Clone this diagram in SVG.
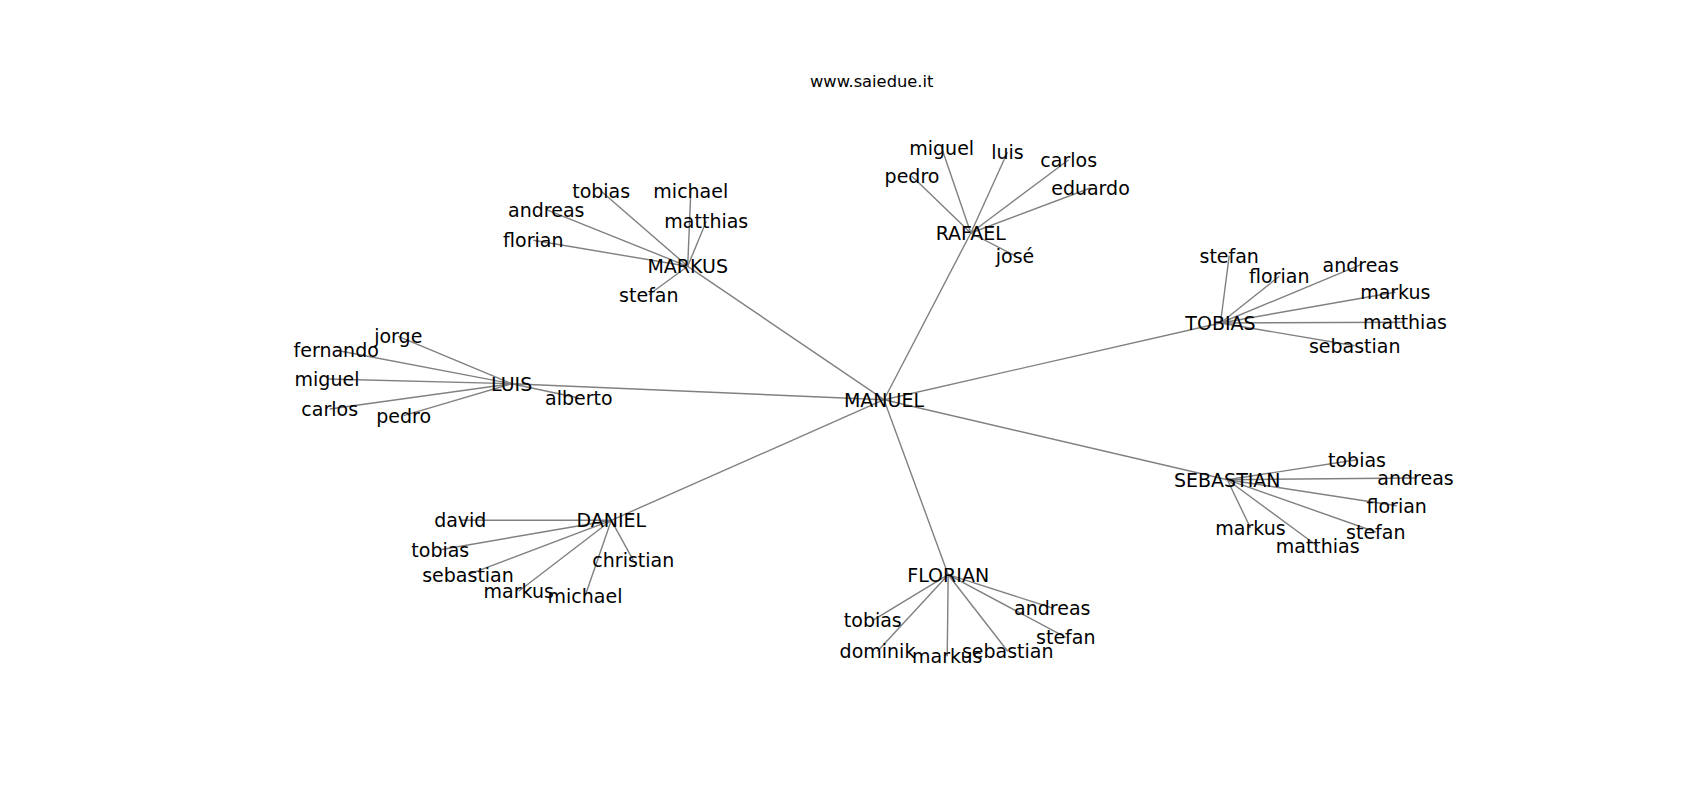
<svg xmlns="http://www.w3.org/2000/svg" width="1700" height="800" viewBox="0 0 1700 800">
<style>
text{font-family:"DejaVu Sans","Liberation Sans",sans-serif;font-size:19px;fill:#000;text-anchor:middle}
.title{font-size:16.3px}
#edges line{stroke:#808080;stroke-width:1.4}
</style>
<rect width="1700" height="800" fill="#fff"/>
<text class="title" x="871.7" y="87.3">www.saiedue.it</text>
<g id="edges">
<line x1="884" y1="399.7" x2="687.7" y2="266.3"/>
<line x1="884" y1="399.7" x2="970.8" y2="233"/>
<line x1="884" y1="399.7" x2="511.7" y2="383.7"/>
<line x1="884" y1="399.7" x2="1220.5" y2="323"/>
<line x1="884" y1="399.7" x2="1227.3" y2="479.7"/>
<line x1="884" y1="399.7" x2="611.3" y2="520.3"/>
<line x1="884" y1="399.7" x2="948.2" y2="574.7"/>
<line x1="687.7" y1="266.3" x2="601.2" y2="191.3"/>
<line x1="687.7" y1="266.3" x2="690.8" y2="191.3"/>
<line x1="687.7" y1="266.3" x2="546.3" y2="209.7"/>
<line x1="687.7" y1="266.3" x2="706.3" y2="221.3"/>
<line x1="687.7" y1="266.3" x2="533.3" y2="240.3"/>
<line x1="687.7" y1="266.3" x2="648.8" y2="294.7"/>
<line x1="970.8" y1="233" x2="941.7" y2="148"/>
<line x1="970.8" y1="233" x2="1007.5" y2="152.3"/>
<line x1="970.8" y1="233" x2="1068.7" y2="159.7"/>
<line x1="970.8" y1="233" x2="912" y2="176.3"/>
<line x1="970.8" y1="233" x2="1090.5" y2="188"/>
<line x1="970.8" y1="233" x2="1015" y2="255.7"/>
<line x1="511.7" y1="383.7" x2="398.3" y2="336.3"/>
<line x1="511.7" y1="383.7" x2="336.2" y2="350.3"/>
<line x1="511.7" y1="383.7" x2="327" y2="379"/>
<line x1="511.7" y1="383.7" x2="578.8" y2="398"/>
<line x1="511.7" y1="383.7" x2="329.7" y2="409"/>
<line x1="511.7" y1="383.7" x2="403.7" y2="415.7"/>
<line x1="1220.5" y1="323" x2="1229.2" y2="255.7"/>
<line x1="1220.5" y1="323" x2="1279.3" y2="276.3"/>
<line x1="1220.5" y1="323" x2="1360.7" y2="264.7"/>
<line x1="1220.5" y1="323" x2="1395.3" y2="292.3"/>
<line x1="1220.5" y1="323" x2="1405" y2="322.3"/>
<line x1="1220.5" y1="323" x2="1354.7" y2="345.7"/>
<line x1="1227.3" y1="479.7" x2="1357" y2="459.7"/>
<line x1="1227.3" y1="479.7" x2="1415.5" y2="478"/>
<line x1="1227.3" y1="479.7" x2="1396.7" y2="505.7"/>
<line x1="1227.3" y1="479.7" x2="1250.5" y2="528"/>
<line x1="1227.3" y1="479.7" x2="1375.8" y2="532"/>
<line x1="1227.3" y1="479.7" x2="1317.7" y2="546.3"/>
<line x1="611.3" y1="520.3" x2="460.3" y2="520.3"/>
<line x1="611.3" y1="520.3" x2="440.3" y2="549.7"/>
<line x1="611.3" y1="520.3" x2="633.3" y2="560.3"/>
<line x1="611.3" y1="520.3" x2="468" y2="574.7"/>
<line x1="611.3" y1="520.3" x2="518.7" y2="591.3"/>
<line x1="611.3" y1="520.3" x2="585" y2="596.3"/>
<line x1="948.2" y1="574.7" x2="872.8" y2="620.3"/>
<line x1="948.2" y1="574.7" x2="1052.3" y2="608"/>
<line x1="948.2" y1="574.7" x2="1065.8" y2="637.3"/>
<line x1="948.2" y1="574.7" x2="877.5" y2="651.3"/>
<line x1="948.2" y1="574.7" x2="947.2" y2="656.3"/>
<line x1="948.2" y1="574.7" x2="1007.7" y2="651.3"/>
</g>
<g id="manuel"><text x="884" y="406.7">MANUEL</text></g>
<g id="markus"><text x="687.7" y="273.3">MARKUS</text></g>
<g id="markus-tobias"><text x="601.2" y="198.3">tobias</text></g>
<g id="markus-michael"><text x="690.8" y="198.3">michael</text></g>
<g id="markus-andreas"><text x="546.3" y="216.7">andreas</text></g>
<g id="markus-matthias"><text x="706.3" y="228.3">matthias</text></g>
<g id="markus-florian"><text x="533.3" y="247.3">florian</text></g>
<g id="markus-stefan"><text x="648.8" y="301.7">stefan</text></g>
<g id="rafael"><text x="970.8" y="240">RAFAEL</text></g>
<g id="rafael-miguel"><text x="941.7" y="155">miguel</text></g>
<g id="rafael-luis"><text x="1007.5" y="159.3">luis</text></g>
<g id="rafael-carlos"><text x="1068.7" y="166.7">carlos</text></g>
<g id="rafael-pedro"><text x="912" y="183.3">pedro</text></g>
<g id="rafael-eduardo"><text x="1090.5" y="195">eduardo</text></g>
<g id="rafael-jose"><text x="1015" y="262.7">josé</text></g>
<g id="luis"><text x="511.7" y="390.7">LUIS</text></g>
<g id="luis-jorge"><text x="398.3" y="343.3">jorge</text></g>
<g id="luis-fernando"><text x="336.2" y="357.3">fernando</text></g>
<g id="luis-miguel"><text x="327" y="386">miguel</text></g>
<g id="luis-alberto"><text x="578.8" y="405">alberto</text></g>
<g id="luis-carlos"><text x="329.7" y="416">carlos</text></g>
<g id="luis-pedro"><text x="403.7" y="422.7">pedro</text></g>
<g id="tobias"><text x="1220.5" y="330">TOBIAS</text></g>
<g id="tobias-stefan"><text x="1229.2" y="262.7">stefan</text></g>
<g id="tobias-florian"><text x="1279.3" y="283.3">florian</text></g>
<g id="tobias-andreas"><text x="1360.7" y="271.7">andreas</text></g>
<g id="tobias-markus"><text x="1395.3" y="299.3">markus</text></g>
<g id="tobias-matthias"><text x="1405" y="329.3">matthias</text></g>
<g id="tobias-sebastian"><text x="1354.7" y="352.7">sebastian</text></g>
<g id="sebastian"><text x="1227.3" y="486.7">SEBASTIAN</text></g>
<g id="sebastian-tobias"><text x="1357" y="466.7">tobias</text></g>
<g id="sebastian-andreas"><text x="1415.5" y="485">andreas</text></g>
<g id="sebastian-florian"><text x="1396.7" y="512.7">florian</text></g>
<g id="sebastian-markus"><text x="1250.5" y="535">markus</text></g>
<g id="sebastian-stefan"><text x="1375.8" y="539">stefan</text></g>
<g id="sebastian-matthias"><text x="1317.7" y="553.3">matthias</text></g>
<g id="daniel"><text x="611.3" y="527.3">DANIEL</text></g>
<g id="daniel-david"><text x="460.3" y="527.3">david</text></g>
<g id="daniel-tobias"><text x="440.3" y="556.7">tobias</text></g>
<g id="daniel-christian"><text x="633.3" y="567.3">christian</text></g>
<g id="daniel-sebastian"><text x="468" y="581.7">sebastian</text></g>
<g id="daniel-markus"><text x="518.7" y="598.3">markus</text></g>
<g id="daniel-michael"><text x="585" y="603.3">michael</text></g>
<g id="florian"><text x="948.2" y="581.7">FLORIAN</text></g>
<g id="florian-tobias"><text x="872.8" y="627.3">tobias</text></g>
<g id="florian-andreas"><text x="1052.3" y="615">andreas</text></g>
<g id="florian-stefan"><text x="1065.8" y="644.3">stefan</text></g>
<g id="florian-dominik"><text x="877.5" y="658.3">dominik</text></g>
<g id="florian-markus"><text x="947.2" y="663.3">markus</text></g>
<g id="florian-sebastian"><text x="1007.7" y="658.3">sebastian</text></g>
</svg>
